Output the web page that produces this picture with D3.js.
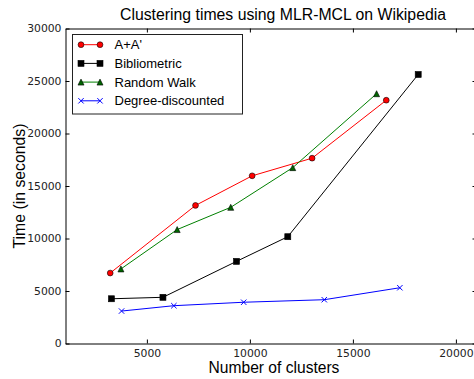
<!DOCTYPE html>
<html>
<head>
<meta charset="utf-8">
<script src="https://cdn.jsdelivr.net/npm/d3@7"></script>
<style>
  html, body { margin: 0; padding: 0; background: #fff; }
  svg { display: block; }
  .tick text { font-family: "DejaVu Sans", sans-serif; font-size: 10.8px; fill: #222; }
  .lbl { font-family: "Liberation Sans", Arial, sans-serif; fill: #000; }
</style>
</head>
<body>
<svg id="chart" width="474" height="379"></svg>
<script>
// Cluster counts (x) and run times in seconds (y) for each method
const aaClusters = [3220, 7360, 10110, 13020, 16620];
const aaTimes = [6710, 13150, 15970, 17650, 23170];

const biblioClusters = [3280, 5780, 9350, 11840, 18170];
const biblioTimes = [4260, 4400, 7820, 10170, 25620];

const rwClusters = [3740, 6470, 9070, 12080, 16150];
const rwTimes = [7100, 10850, 12970, 16750, 23790];

const ddClusters = [3770, 6310, 9700, 13610, 17280];
const ddTimes = [3090, 3600, 3930, 4170, 5310];

const seriesNames = ["A+A'", "Bibliometric", "Random Walk", "Degree-discounted"];
const xTickValues = [5000, 10000, 15000, 20000];
const yTickValues = [0, 5000, 10000, 15000, 20000, 25000, 30000];

const titleText = "Clustering times using MLR-MCL on Wikipedia";
const xLabelText = "Number of clusters";
const yLabelText = "Time (in seconds)";

const svg = d3.select("#chart");

const plotLeft = 65.5, plotRight = 476.5, plotTop = 28.5, plotBottom = 343.5;

const x = d3.scaleLinear().domain([1050, 21000]).range([plotLeft, plotRight]);
const y = d3.scaleLinear().domain([0, 30000]).range([plotBottom, plotTop]);

const styles = [
  { color: "#ff0000", marker: "circle", fill: "#ff0000" },
  { color: "#000000", marker: "square", fill: "#000000" },
  { color: "#008000", marker: "triangle", fill: "#006400" },
  { color: "#0000ff", marker: "x", fill: "none" }
];

const series = [
  { name: seriesNames[0], xs: aaClusters, ys: aaTimes, style: styles[0] },
  { name: seriesNames[1], xs: biblioClusters, ys: biblioTimes, style: styles[1] },
  { name: seriesNames[2], xs: rwClusters, ys: rwTimes, style: styles[2] },
  { name: seriesNames[3], xs: ddClusters, ys: ddTimes, style: styles[3] }
];

// Axes: ticks point inward on all four sides
const axisBottom = d3.axisBottom(x).tickValues(xTickValues).tickFormat(d3.format("d"))
  .tickSizeInner(-4).tickSizeOuter(0).tickPadding(5.5);
const axisTop = d3.axisTop(x).tickValues(xTickValues).tickFormat("")
  .tickSizeInner(-4).tickSizeOuter(0);
const axisLeft = d3.axisLeft(y).tickValues(yTickValues).tickFormat(d3.format("d"))
  .tickSizeInner(-4).tickSizeOuter(0).tickPadding(4);
const axisRight = d3.axisRight(y).tickValues(yTickValues).tickFormat("")
  .tickSizeInner(-4).tickSizeOuter(0);

function styleAxis(g) {
  g.attr("font-size", null).attr("font-family", null);
  g.selectAll(".domain").attr("stroke", "#000").attr("stroke-width", 1);
  g.selectAll(".tick line").attr("stroke", "#000").attr("stroke-width", 1);
}

svg.append("g").attr("transform", `translate(0,${plotBottom})`).call(axisBottom).call(styleAxis);
svg.append("g").attr("transform", `translate(0,${plotTop})`).call(axisTop).call(styleAxis);
svg.append("g").attr("transform", `translate(${plotLeft},0)`).call(axisLeft).call(styleAxis);
svg.append("g").attr("transform", `translate(${plotRight},0)`).call(axisRight).call(styleAxis);

// Marker drawing
function drawMarker(g, type, cx, cy, st) {
  if (type === "circle") {
    g.append("circle").attr("cx", cx).attr("cy", cy).attr("r", 2.9)
      .attr("fill", st.fill).attr("stroke", "#000").attr("stroke-width", 0.6);
  } else if (type === "square") {
    g.append("rect").attr("x", cx - 3).attr("y", cy - 3).attr("width", 6).attr("height", 6)
      .attr("fill", st.fill).attr("stroke", "#000").attr("stroke-width", 0.6);
  } else if (type === "triangle") {
    const s = 3;
    g.append("path")
      .attr("d", `M${cx},${cy - s}L${cx - s},${cy + s}L${cx + s},${cy + s}Z`)
      .attr("fill", st.fill).attr("stroke", "#000").attr("stroke-width", 0.6);
  } else if (type === "x") {
    const s = 2.7;
    g.append("path")
      .attr("d", `M${cx - s},${cy - s}L${cx + s},${cy + s}M${cx - s},${cy + s}L${cx + s},${cy - s}`)
      .attr("fill", "none").attr("stroke", st.color).attr("stroke-width", 1);
  }
}

// Series lines and markers
const line = d3.line().x(d => x(d[0])).y(d => y(d[1]));
series.forEach(s => {
  const pts = s.xs.map((v, i) => [v, s.ys[i]]);
  const g = svg.append("g");
  g.append("path").attr("d", line(pts)).attr("fill", "none")
    .attr("stroke", s.style.color).attr("stroke-width", 1);
  pts.forEach(p => drawMarker(g, s.style.marker, x(p[0]), y(p[1]), s.style));
});

// Legend
const legend = svg.append("g");
legend.append("rect").attr("x", 72.5).attr("y", 34.5).attr("width", 170).attr("height", 79.5)
  .attr("fill", "#fff").attr("stroke", "#222").attr("stroke-width", 1);
series.forEach((s, i) => {
  const cy = 44.7 + i * 18.7;
  const g = legend.append("g");
  g.append("line").attr("x1", 81).attr("x2", 100).attr("y1", cy).attr("y2", cy)
    .attr("stroke", s.style.color).attr("stroke-width", 1);
  drawMarker(g, s.style.marker, 81, cy, s.style);
  drawMarker(g, s.style.marker, 100, cy, s.style);
  g.append("text").attr("class", "lbl").attr("x", 114.5).attr("y", cy).attr("dy", "0.36em")
    .attr("font-size", "13px").text(s.name);
});

// Title and axis labels
svg.append("text").attr("class", "lbl").attr("x", 283).attr("y", 20)
  .attr("text-anchor", "middle").attr("font-size", "15.8px").text(titleText);
svg.append("text").attr("class", "lbl").attr("x", 274).attr("y", 372.5)
  .attr("text-anchor", "middle").attr("font-size", "15.6px").text(xLabelText);
svg.append("text").attr("class", "lbl")
  .attr("transform", "translate(25,186) rotate(-90)")
  .attr("text-anchor", "middle").attr("font-size", "15.8px").text(yLabelText);
</script>
</body>
</html>
